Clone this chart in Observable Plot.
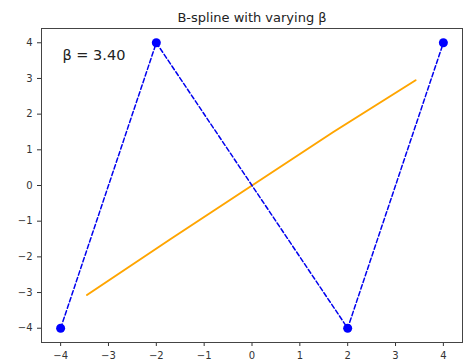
<!DOCTYPE html>
<html>
<head>
<meta charset="utf-8">
<script src="https://cdn.jsdelivr.net/npm/d3@7"></script>
<script src="https://cdn.jsdelivr.net/npm/@observablehq/plot@0.6"></script>
<style>
  html, body { margin: 0; padding: 0; background: #fff; }
  #chart svg { display: block; }
</style>
</head>
<body>
<div id="chart"></div>
<script>
const controlX = [-4, -2, 2, 4];
const controlY = [-4, 4, -4, 4];
const splineX = [-3.45, -1.7, 0, 1.7, 3.42];
const splineY = [-3.07, -1.5, 0, 1.5, 2.95];
const xTicks = [-4, -3, -2, -1, 0, 1, 2, 3, 4];
const yTicks = [-4, -3, -2, -1, 0, 1, 2, 3, 4];
const titleText = "B-spline with varying β";
const betaLabel = "β = 3.40";

const control = controlX.map((x, i) => ({x, y: controlY[i]}));
const spline = splineX.map((x, i) => ({x, y: splineY[i]}));
const fmt = d => d < 0 ? "\u2212" + (-d) : String(d);

const chart = Plot.plot({
  width: 464,
  height: 362,
  marginLeft: 41,
  marginRight: 2,
  marginTop: 28,
  marginBottom: 20,
  style: {fontFamily: "DejaVu Sans", fontSize: "10px", color: "#333", background: "#fff"},
  x: {domain: [-4.4, 4.4], ticks: xTicks, tickFormat: fmt, tickSize: 4, label: null},
  y: {domain: [-4.4, 4.4], ticks: yTicks, tickFormat: fmt, tickSize: 4, label: null},
  marks: [
    Plot.frame({stroke: "#444", strokeWidth: 1}),
    Plot.line(spline, {x: "x", y: "y", stroke: "orange", strokeWidth: 2}),
    Plot.line(control, {x: "x", y: "y", stroke: "#0000ee", strokeWidth: 1.5, strokeDasharray: "4.5,2.5"}),
    Plot.dot(control, {x: "x", y: "y", r: 4.5, fill: "#0000ff", stroke: "none"}),
    Plot.text([betaLabel], {frameAnchor: "top-left", text: d => d, dx: 21, dy: 21, textAnchor: "start", fontSize: 14.5, fill: "#222"}),
    Plot.text([titleText], {frameAnchor: "top", text: d => d, dy: -7, lineAnchor: "bottom", fontSize: 13, fill: "#222"})
  ]
});
document.getElementById("chart").appendChild(chart);
</script>
</body>
</html>
